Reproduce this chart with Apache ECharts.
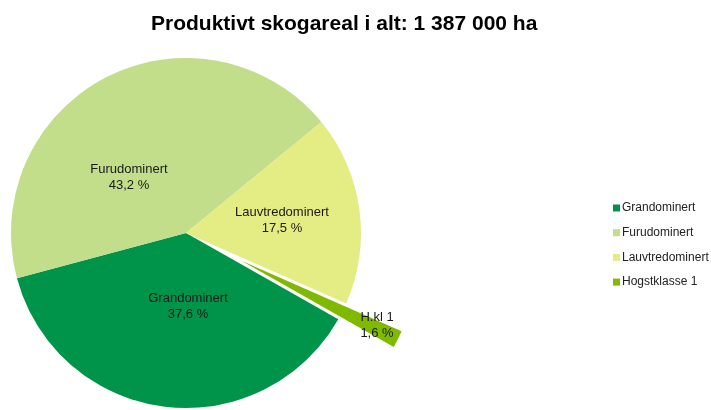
<!DOCTYPE html>
<html>
<head>
<meta charset="utf-8">
<script src="https://cdn.jsdelivr.net/npm/echarts@6/dist/echarts.min.js"></script>
<style>
  html, body { margin: 0; padding: 0; background: #fff; }
  #chart { width: 711px; height: 410px; }
</style>
</head>
<body>
<div id="chart"></div>
<script>
// andeler av produktivt skogareal, i prosent
const categories = ['Grandominert', 'Furudominert', 'Lauvtredominert', 'Hogstklasse 1']
const sliceLabels = ['Grandominert', 'Furudominert', 'Lauvtredominert', 'H.kl 1']
const shares = [37.6, 43.2, 17.5, 1.6]
const colors = ['#00934a', '#c2de8a', '#e4ec84', '#7fba00']

// label centres, picked to sit where the original puts them
const labelSpots = [[188, 306], [129, 177], [282, 220], [377, 325]]

const fmt = v => v.toFixed(1).replace('.', ',') + ' %'

const pieBase = {
  type: 'pie',
  center: [186, 233],
  radius: 175,
  startAngle: -29.5,
  clockwise: true,
  avoidLabelOverlap: false,
  emphasis: { disabled: true },
  labelLine: { show: false },
  labelLayout: p => {
    const [x, y] = labelSpots[p.dataIndex]
    return { x, y, align: 'center', verticalAlign: 'middle' }
  }
}

const labelStyle = {
  position: 'inside',
  fontSize: 13,
  lineHeight: 16,
  color: '#1a1a1a',
  formatter: p => sliceLabels[p.dataIndex] + '\n' + fmt(p.value)
}

const chart = echarts.init(document.getElementById('chart'))

chart.setOption({
  animation: false,
  color: colors,
  textStyle: { fontFamily: '"Liberation Sans", Arial, sans-serif' },
  title: {
    text: 'Produktivt skogareal i alt: 1 387 000 ha',
    left: 146,
    top: 9,
    textStyle: { fontSize: 21, fontWeight: 'bold', color: '#000' }
  },
  legend: {
    orient: 'vertical',
    left: 608,
    top: 197,
    icon: 'rect',
    itemWidth: 7,
    itemHeight: 7,
    itemGap: 12.7,
    selectedMode: false,
    textStyle: { fontSize: 12, color: '#222', padding: [0, 0, 0, -3] },
    data: categories
  },
  series: [
    {
      ...pieBase,
      selectedMode: 'single',
      selectedOffset: 62,
      label: { ...labelStyle, show: true },
      data: categories.map((name, i) => ({
        name,
        value: shares[i],
        selected: i === 3,
        // the exploded slice ignores labelLayout, its label comes from the overlay below
        label: { show: i !== 3 }
      }))
    },
    {
      // invisible copy of the pie, only carries the label of the exploded slice
      ...pieBase,
      silent: true,
      selectedMode: false,
      itemStyle: { color: 'rgba(0,0,0,0)' },
      label: { ...labelStyle, show: false },
      data: categories.map((name, i) => ({
        name,
        value: shares[i],
        label: { show: i === 3 }
      }))
    }
  ]
})
</script>
</body>
</html>
